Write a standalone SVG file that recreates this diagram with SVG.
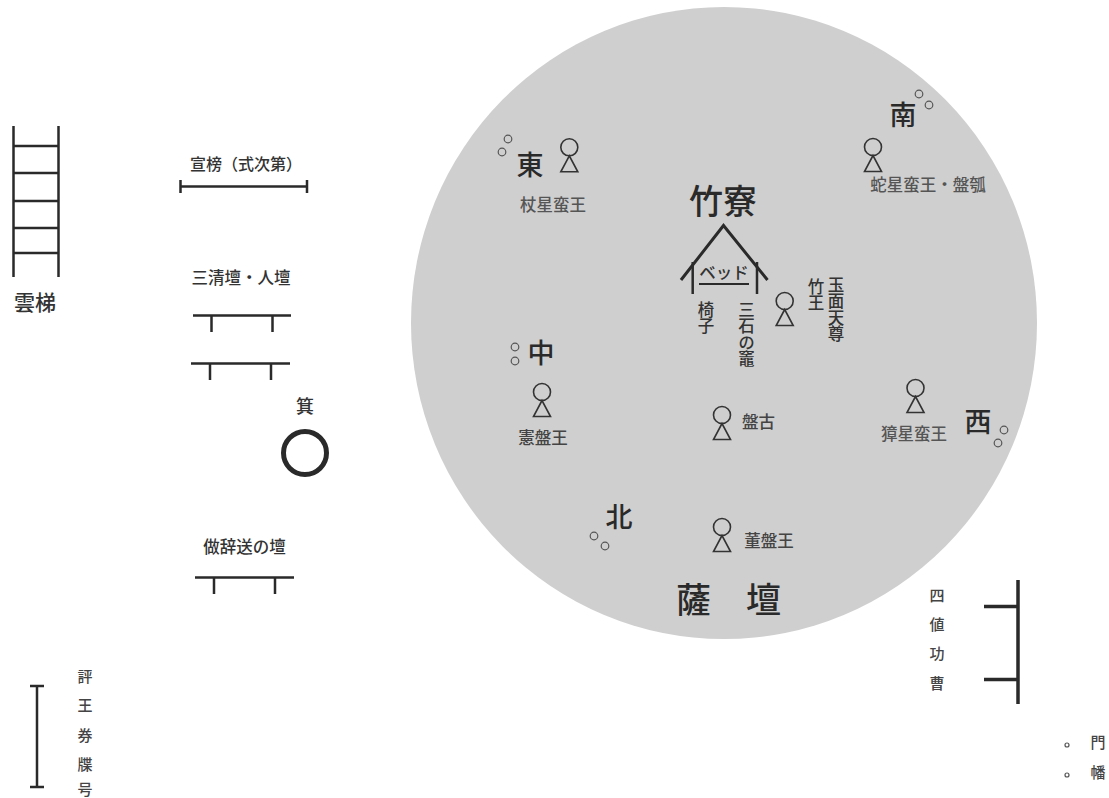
<svg xmlns="http://www.w3.org/2000/svg" width="1109" height="798" viewBox="0 0 1109 798">
<style>
text{font-family:"Noto Sans CJK JP","Noto Sans CJK SC",sans-serif;text-anchor:middle;dominant-baseline:central;fill:#333;font-weight:500}
.big{font-size:27px;fill:#2a2a2a}
.huge{font-size:34px;fill:#2a2a2a}
.lab{font-size:16.5px;fill:#555}
.lab2{font-size:16.5px;fill:#444}
.sm{font-size:15px;fill:#444}
.v{writing-mode:vertical-rl;text-anchor:start;font-size:16.5px;dominant-baseline:auto;fill:#333}
.ln{fill:none;stroke:#2a2a2a;stroke-width:2.5}
.thick{fill:none;stroke:#2a2a2a;stroke-width:3.5}
.d{fill:none;stroke:#555;stroke-width:1.2}
.p{fill:none;stroke:#333;stroke-width:1.6}
</style>
<defs>
<g id="person"><circle cx="0" cy="0" r="8.5" class="p"/><path d="M0 8.5L-8.5 24.5H8.5Z" class="p"/></g>
</defs>
<rect width="1109" height="798" fill="#fff"/>
<ellipse id="satan" cx="724" cy="323" rx="313" ry="316" fill="#cfcfcf"/>
<g id="hall">
<text x="723" y="199" class="huge">竹寮</text>
<path d="M681 280L723.500 225.500L767.500 280" class="ln" style="stroke-width:3"/>
<path d="M692.700 262V294M757 262V294" class="ln"/>
<text x="724" y="272" style="font-size:16.500px">ベッド</text>
<path d="M699 284H749" class="ln" style="stroke-width:2"/>
<text x="706" y="301" class="v">椅子</text>
<text x="746.500" y="301" class="v">三石の竈</text>
</g>
<g id="east"><circle cx="508" cy="139" r="3.800" class="d"/><circle cx="502" cy="152" r="3.800" class="d"/><text x="530" y="163" class="big">東</text><use href="#person" x="569.300" y="147.300"/><text x="553" y="203.500" class="lab">杖星蛮王</text></g>
<g id="south"><circle cx="919" cy="94" r="3.800" class="d"/><circle cx="929" cy="105" r="3.800" class="d"/><text x="903" y="113" class="big">南</text><use href="#person" x="873" y="147"/><text x="928" y="183.500" class="lab">蛇星蛮王・盤瓠</text></g>
<g id="center"><circle cx="515" cy="347" r="3.800" class="d"/><circle cx="515" cy="361" r="3.800" class="d"/><text x="541" y="351" class="big">中</text><use href="#person" x="542" y="392"/><text x="543" y="436.500" class="lab2">憲盤王</text></g>
<g id="west"><circle cx="1004" cy="430" r="3.800" class="d"/><circle cx="998" cy="443" r="3.800" class="d"/><text x="978" y="420" class="big">西</text><use href="#person" x="915.500" y="388"/><text x="914" y="432.500" class="lab">獐星蛮王</text></g>
<g id="north"><circle cx="594" cy="536" r="3.800" class="d"/><circle cx="605" cy="546" r="3.800" class="d"/><text x="619" y="515" class="big">北</text></g>
<g id="chikuo"><use href="#person" x="784.700" y="301"/><text x="816" y="278" class="v">竹王</text><text x="836" y="276" class="v">玉面天尊</text></g>
<g id="banko"><use href="#person" x="722" y="415"/><text x="758.500" y="420.500" class="lab2">盤古</text></g>
<g id="toban"><use href="#person" x="722" y="527"/><text x="769" y="539.500" class="lab2">董盤王</text></g>
<text id="satan-label" x="728.500" y="597" class="huge" style="font-size:35px">薩　壇</text>
<g id="ladder"><path d="M13.500 126V277M58.500 126V277" class="ln"/><path d="M13.500 146H58.500M13.500 173H58.500M13.500 201H58.500M13.500 228H58.500M13.500 253H58.500" class="ln"/><text x="35" y="301" style="font-size:21px">雲梯</text></g>
<g id="senbo"><text x="246" y="162.500" style="font-size:16px">宣榜（式次第）</text><path d="M180.500 180V193M307 180V193" class="ln"/><path d="M180.500 186.500H307" class="ln"/></g>
<g id="sanseidan"><text x="241" y="276.500" style="font-size:16.500px">三清壇・人壇</text><path d="M193 315.500H291M211.500 315.500V332M272.500 315.500V332M191 363.500H290M210 363.500V380M271 363.500V380" class="ln"/></g>
<g id="mi"><text x="305" y="404.500" style="font-size:18px">箕</text><circle cx="305" cy="453" r="21.500" fill="none" stroke="#2a2a2a" stroke-width="5"/></g>
<g id="sojisodan"><text x="244.500" y="545.500" style="font-size:16.500px">做辞送の壇</text><path d="M195 577.500H294M214 577.500V594M275 577.500V594" class="ln"/></g>
<g id="hyoo"><path d="M37 686V787M30 686H44M30 787H44" class="ln"/><text x="85" y="675" class="sm">評</text><text x="85" y="704" class="sm">王</text><text x="85" y="734" class="sm">券</text><text x="85" y="763" class="sm">牒</text><text x="85" y="788.500" class="sm">号</text></g>
<g id="shichi"><path d="M1018 580V704M984 606.500H1018M984 679.500H1018" class="thick"/><text x="937" y="594.500" class="sm">四</text><text x="937" y="623.500" class="sm">値</text><text x="937" y="652.500" class="sm">功</text><text x="937" y="682.500" class="sm">曹</text></g>
<g id="legend"><circle cx="1067" cy="745" r="2" class="d"/><circle cx="1067" cy="775" r="2" class="d"/><text x="1098" y="741.500" class="sm">門</text><text x="1098" y="771.500" class="sm">幡</text></g>
</svg>
